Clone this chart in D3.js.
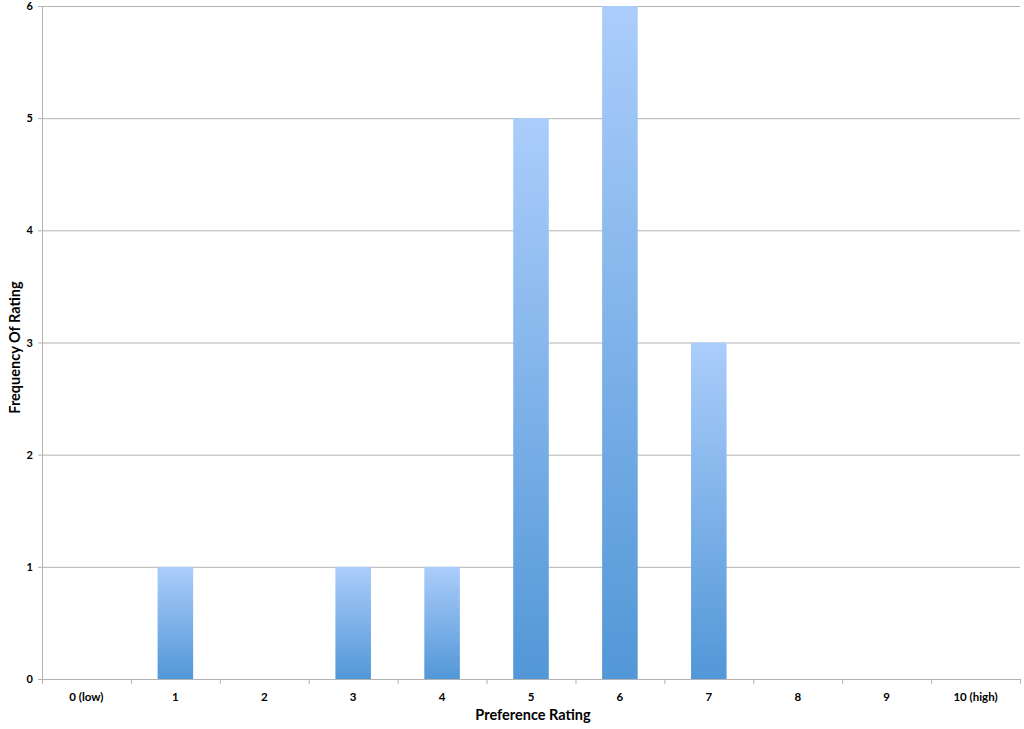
<!DOCTYPE html>
<html>
<head>
<meta charset="utf-8">
<script src="https://cdn.jsdelivr.net/npm/d3@7"></script>
<style>
  body { margin: 0; background: #fff; }
  svg text { font-family: Lato, "Open Sans", sans-serif; font-weight: bold; fill: #000; }
</style>
</head>
<body>
<svg id="chart"></svg>
<script>
const ratings = ["0 (low)", "1", "2", "3", "4", "5", "6", "7", "8", "9", "10 (high)"];
const counts = [0, 1, 0, 1, 1, 5, 6, 3, 0, 0, 0];
const yTicks = [0, 1, 2, 3, 4, 5, 6];

const width = 1024, height = 729;
const margin = { top: 6, right: 4, bottom: 50, left: 42 };

let svg = d3.select("#chart")
    .attr("width", width)
    .attr("height", height);

let x = d3.scaleBand()
    .domain(ratings)
    .range([margin.left, width - margin.right])
    .paddingInner(0.6)
    .paddingOuter(0.3);

// band boundaries for tick marks
let step = x.step();
let x0 = margin.left;

let y = d3.scaleLinear()
    .domain([0, 6])
    .range([height - margin.bottom, margin.top]);

// gradient for bars
let defs = svg.append("defs");
let grad = defs.append("linearGradient")
    .attr("id", "barGrad")
    .attr("x1", 0).attr("y1", 0)
    .attr("x2", 0).attr("y2", 1);
grad.append("stop").attr("offset", "0%").attr("stop-color", "#abcdfb");
grad.append("stop").attr("offset", "100%").attr("stop-color", "#5297d7");

// gridlines
svg.append("g")
    .selectAll("line")
    .data(yTicks)
    .join("line")
    .attr("x1", margin.left - 4)
    .attr("x2", width - margin.right)
    .attr("y1", d => y(d) + 0.5)
    .attr("y2", d => y(d) + 0.5)
    .attr("stroke", "#b3b3b3")
    .attr("stroke-width", 1);

// y axis line
svg.append("line")
    .attr("x1", margin.left + 0.5).attr("x2", margin.left + 0.5)
    .attr("y1", y(6)).attr("y2", y(0))
    .attr("stroke", "#b3b3b3");

// y tick labels
svg.append("g")
    .selectAll("text")
    .data(yTicks)
    .join("text")
    .attr("x", margin.left - 9)
    .attr("y", d => y(d) + 4)
    .attr("text-anchor", "end")
    .style("font-size", "11px")
    .text(d => d);

// x tick marks at band boundaries
svg.append("g")
    .selectAll("line")
    .data(d3.range(ratings.length + 1))
    .join("line")
    .attr("x1", i => x0 + i * step + 0.5)
    .attr("x2", i => x0 + i * step + 0.5)
    .attr("y1", y(0))
    .attr("y2", y(0) + 5)
    .attr("stroke", "#b3b3b3");

// bars
svg.append("g")
    .selectAll("rect")
    .data(counts.map((c, i) => ({ rating: ratings[i], count: c })).filter(d => d.count > 0))
    .join("rect")
    .attr("x", d => x(d.rating))
    .attr("y", d => y(d.count))
    .attr("width", x.bandwidth())
    .attr("height", d => y(0) - y(d.count))
    .attr("fill", "url(#barGrad)");

// x tick labels
svg.append("g")
    .selectAll("text")
    .data(ratings)
    .join("text")
    .attr("x", d => x(d) + x.bandwidth() / 2)
    .attr("y", y(0) + 22)
    .attr("text-anchor", "middle")
    .style("font-size", "11.5px")
    .text(d => d);

// axis titles
svg.append("text")
    .attr("x", (margin.left + width - margin.right) / 2 + 2)
    .attr("y", 720)
    .attr("text-anchor", "middle")
    .style("font-size", "14.5px")
    .text("Preference Rating");

svg.append("text")
    .attr("transform", `translate(20,${(y(0) + y(6)) / 2 + 5}) rotate(-90)`)
    .attr("text-anchor", "middle")
    .style("font-size", "14.5px")
    .text("Frequency Of Rating");
</script>
</body>
</html>
